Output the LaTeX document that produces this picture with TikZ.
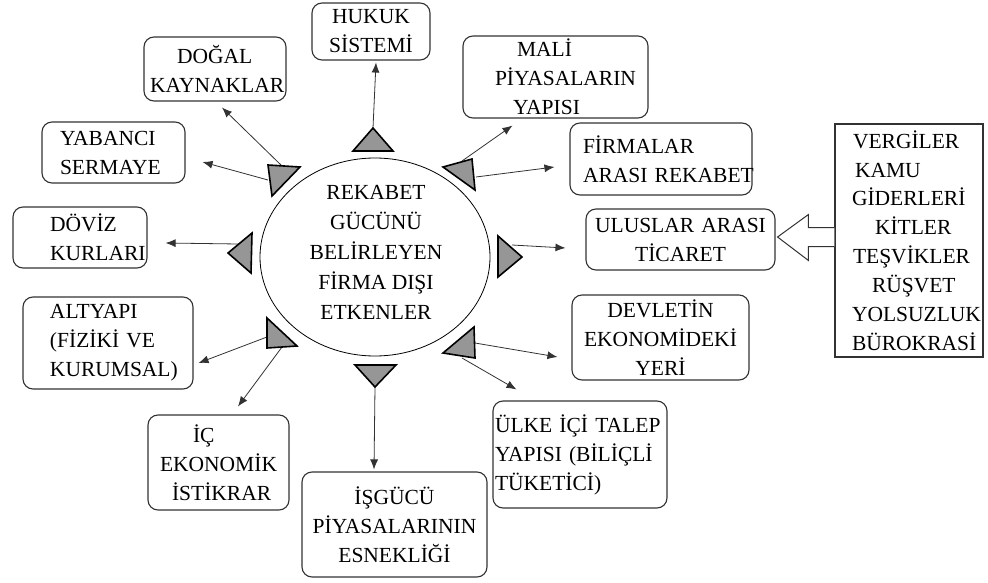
\documentclass[tikz,border=0pt]{standalone}
\usepackage{fontspec}
\setmainfont{Liberation Serif}
\usetikzlibrary{arrows.meta,shapes.geometric,calc}
\definecolor{ucgen}{RGB}{150,150,150}
\definecolor{cizgi}{RGB}{50,50,50}
\begin{document}
\begin{tikzpicture}[x=1pt,y=-1pt,
  kutu/.style={draw=cizgi, line width=1.1pt, rounded corners=10pt, inner sep=0pt,
    font=\fontsize{21.5}{29}\selectfont},
  sol/.style={align=left},
  orta/.style={align=center},
  pil/.style={draw=cizgi, line width=0.8pt, -{Latex[length=10pt,width=8pt]}},
  ucgenstil/.style={fill=ucgen, draw=black, line width=1.6pt, line join=miter},
  blok/.style={draw=cizgi, line width=1pt, fill=white, line join=miter},
]
\useasboundingbox (0,0) rectangle (988,583);

% central ellipse and its text
\node[draw=black, line width=0.8pt, ellipse, minimum width=230pt, minimum height=198pt, inner sep=0pt] (merkez) at (375,257) {};
\node[font=\fontsize{21.5}{30}\selectfont, align=center] (merkezyazi) at (376,252)
  {REKABET\\GÜCÜNÜ\\BELİRLEYEN\\FİRMA DIŞI\\ETKENLER};

% surrounding boxes
\node[kutu, orta, text width=118pt, minimum height=57pt] (hukuk) at (371,31.5) {HUKUK\\SİSTEMİ};
\node[kutu, sol, text width=142pt, minimum height=64pt] (dogal) at (215,69)
  {\hspace*{33pt}DOĞAL\\\hspace*{6pt}KAYNAKLAR};
\node[kutu, sol, text width=185pt, minimum height=82pt] (mali) at (555.5,77)
  {\hspace*{54pt}MALİ\\\hspace*{32pt}PİYASALARIN\\\hspace*{50pt}YAPISI};
\node[kutu, sol, text width=182pt, minimum height=72pt] (firmalar) at (661,159)
  {\hspace*{13pt}FİRMALAR\\\hspace*{13pt}\mbox{ARASI REKABET}};
\node[kutu, sol, text width=143pt, minimum height=61pt] (yabanci) at (113.5,152.5)
  {\hspace*{18pt}YABANCI\\\hspace*{18pt}SERMAYE};
\node[kutu, sol, text width=134pt, minimum height=61pt] (doviz) at (80,237.5)
  {\hspace*{37pt}DÖVİZ\\\hspace*{37pt}KURLARI};
\node[kutu, sol, text width=170pt, minimum height=92pt] (altyapi) at (108,343)
  {\hspace*{27pt}ALTYAPI\\\hspace*{27pt}\mbox{(FİZİKİ VE}\\\hspace*{27pt}KURUMSAL)};
\node[kutu, sol, text width=141pt, minimum height=95pt] (ic) at (218.5,462.5)
  {\hspace*{45pt}İÇ\\\hspace*{12pt}EKONOMİK\\\hspace*{24pt}İSTİKRAR};
\node[kutu, orta, text width=185pt, minimum height=105pt] (isgucu) at (394.5,524.5)
  {İŞGÜCÜ\\PİYASALARININ\\ESNEKLİĞİ};
\node[kutu, sol, text width=174pt, minimum height=107pt] (ulke) at (580,454.5)
  {\hspace*{2pt}\mbox{ÜLKE İÇİ TALEP}\\\hspace*{2pt}\mbox{YAPISI (BİLİÇLİ}\\\hspace*{2pt}TÜKETİCİ)};
\node[kutu, orta, text width=177pt, minimum height=85pt] (devlet) at (660.5,337.5)
  {DEVLETİN\\EKONOMİDEKİ\\YERİ};
\node[kutu, orta, text width=189pt, minimum height=61pt] (uluslar) at (680.5,239.5)
  {\mbox{ULUSLAR ARASI}\\TİCARET};
\node[kutu, sol, rounded corners=0pt, text width=148pt, minimum height=233pt,
      font=\fontsize{21.5}{28.9}\selectfont] (sag) at (909,240.5)
  {\hspace*{18pt}VERGİLER\\\hspace*{20pt}KAMU\\\hspace*{17pt}GİDERLERİ\\\hspace*{40pt}KİTLER\\
   \hspace*{18pt}TEŞVİKLER\\\hspace*{37pt}RÜŞVET\\\hspace*{17pt}YOLSUZLUK\\\hspace*{17pt}BÜROKRASİ};

% block arrow from the policy box to international trade
\draw[blok] ($(sag.west)+(0,-13)$) -- ($(sag.west)+(-26,-13)$) -- ($(sag.west)+(-26,-26)$)
  -- ($(uluslar.east)+(2,-2.5)$) -- ($(sag.west)+(-26,20)$) -- ($(sag.west)+(-26,6)$)
  -- ($(sag.west)+(0,6)$);

% start points of the connectors on the triangles
\coordinate (s-hukuk) at (373,128);
\coordinate (s-dogal) at (282,166);
\coordinate (s-yabanci) at (268,180);
\coordinate (s-doviz) at (238,244);
\coordinate (s-altyapi) at (267,337);
\coordinate (s-ic) at (282,347);
\coordinate (s-isgucu) at (375,387);
\coordinate (s-ulke) at (462,358);
\coordinate (s-devlet) at (475,343);
\coordinate (s-uluslar) at (512,245);
\coordinate (s-firmalar) at (476,177);
\coordinate (s-mali) at (462,161);

% connectors
\draw[pil] (s-hukuk) -- ($(hukuk.south)+(5,2)$);
\draw[pil] (s-dogal) -- ($(dogal.south)+(7,6)$);
\draw[pil] (s-yabanci) -- ($(yabanci.east)+(17,9.5)$);
\draw[pil] (s-doviz) -- ($(doviz.east)+(18,5.5)$);
\draw[pil] (s-altyapi) -- ($(altyapi.east)+(5,20)$);
\draw[pil] (s-ic) -- ($(ic.north)+(19.5,-8)$);
\draw[pil] (s-isgucu) -- ($(isgucu.north)+(-20.5,-2)$);
\draw[pil] (s-ulke) -- ($(ulke.north west)+(24,-11)$);
\draw[pil] (s-devlet) -- ($(devlet.west)+(-14,19.5)$);
\draw[pil] (s-uluslar) -- ($(uluslar.west)+(-20,8.5)$);
\draw[pil] (s-firmalar) -- ($(firmalar.west)+(-15,8)$);
\draw[pil] (s-mali) -- ($(mali.south west)+(50,7)$);

% grey triangles around the ellipse
\draw[ucgenstil] (373,128) -- (353,151) -- (393,151) -- cycle;
\draw[ucgenstil] (268,165) -- (300,167) -- (272,196) -- cycle;
\draw[ucgenstil] (443,167) -- (472,159) -- (475,190) -- cycle;
\draw[ucgenstil] (228,253) -- (252,233) -- (251,273) -- cycle;
\draw[ucgenstil] (498,236) -- (522,257) -- (498,277) -- cycle;
\draw[ucgenstil] (267,318) -- (297,346) -- (267,348) -- cycle;
\draw[ucgenstil] (355,365) -- (396,365) -- (375,387) -- cycle;
\draw[ucgenstil] (443,353) -- (474,327) -- (475,358) -- cycle;
\end{tikzpicture}
\end{document}
